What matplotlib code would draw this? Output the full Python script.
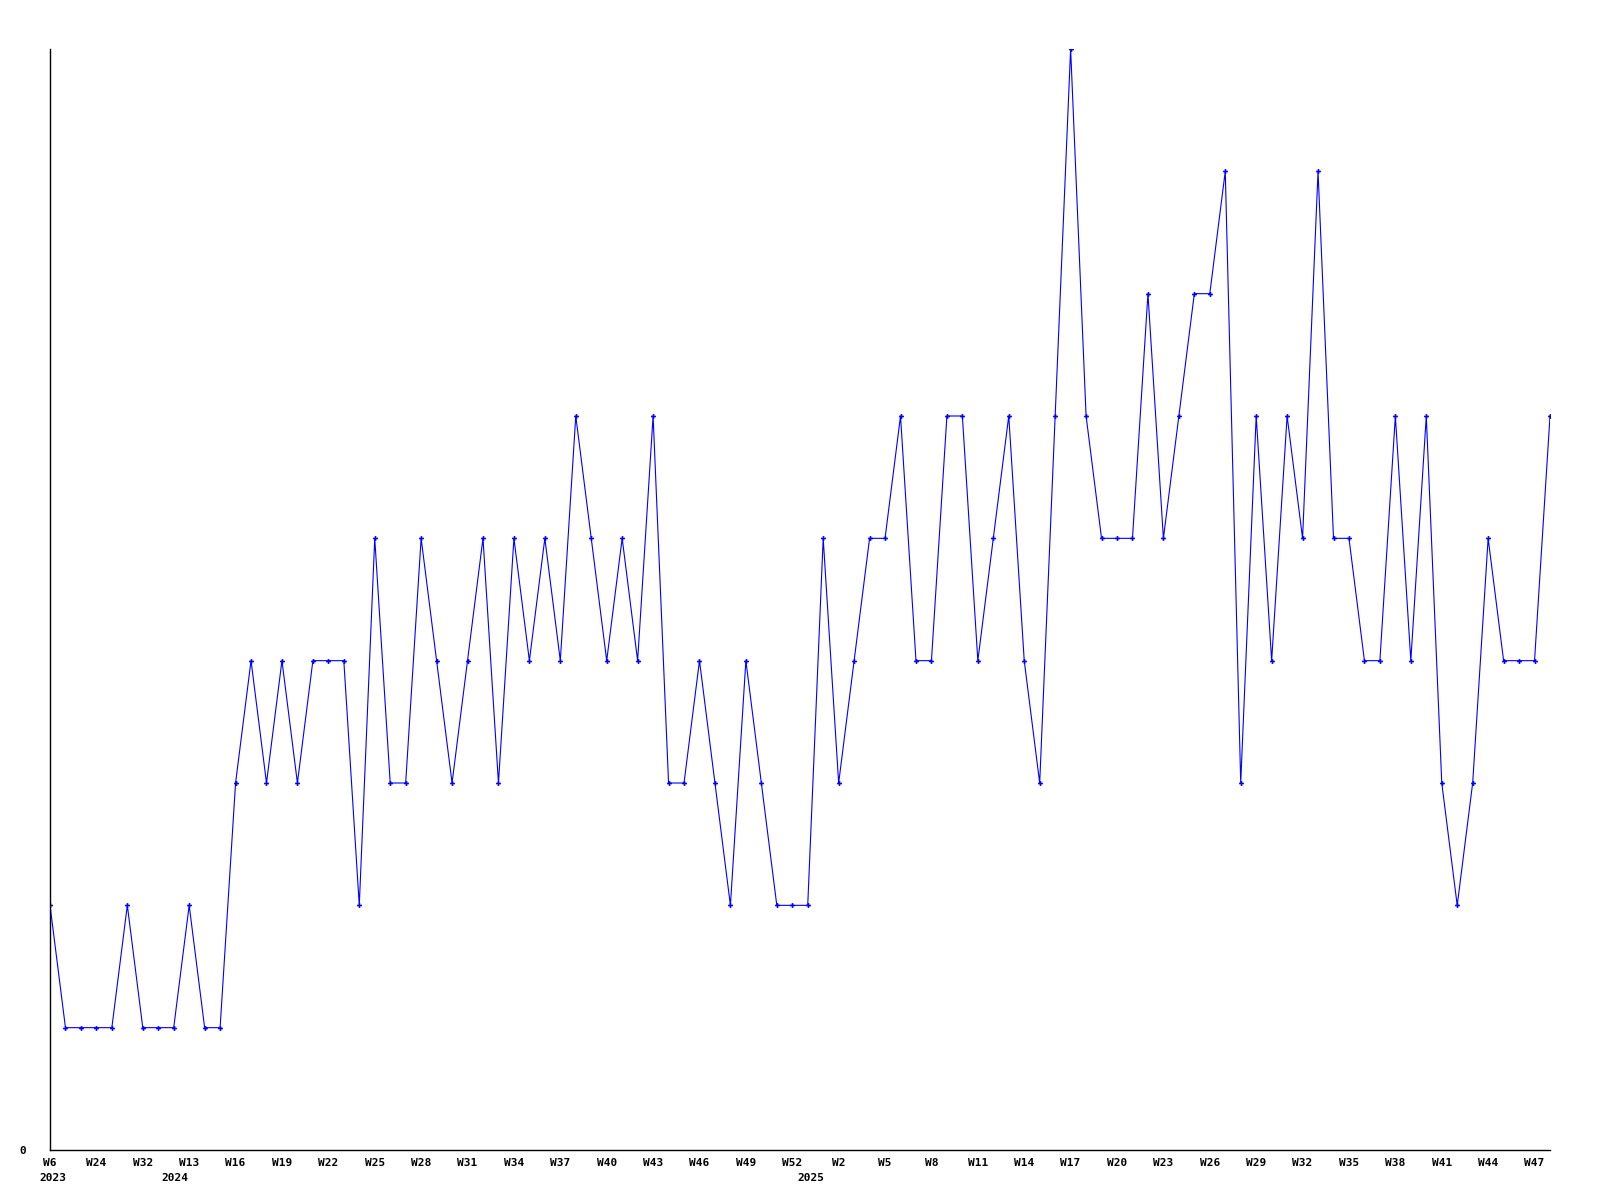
import matplotlib
matplotlib.use("Agg")
import matplotlib.pyplot as plt
import matplotlib.transforms as mtransforms

# ----------------------------------------
# DATA (one value per week that has data)
# ----------------------------------------
values = [
    2, 1, 1, 1, 1, 2, 1, 1, 1, 2,
    1, 1, 3, 4, 3, 4, 3, 4, 4, 4,
    2, 5, 3, 3, 5, 4, 3, 4, 5, 3,
    5, 4, 5, 4, 6, 5, 4, 5, 4, 6,
    3, 3, 4, 3, 2, 4, 3, 2, 2, 2,
    5, 3, 4, 5, 5, 6, 4, 4, 6, 6,
    4, 5, 6, 4, 3, 6, 9, 6, 5, 5,
    5, 7, 5, 6, 7, 7, 8, 3, 6, 4,
    6, 5, 8, 5, 5, 4, 4, 6, 4, 6,
    3, 2, 3, 5, 4, 4, 4, 6,
]

week_labels = [
    "W6", "W24", "W32", "W13", "W16", "W19", "W22", "W25", "W28", "W31",
    "W34", "W37", "W40", "W43", "W46", "W49", "W52", "W2", "W5", "W8",
    "W11", "W14", "W17", "W20", "W23", "W26", "W29", "W32", "W35", "W38",
    "W41", "W44", "W47",
]
week_label_step = 3

years = ["2023", "2024", "2025"]
year_pos = [0.2, 8.1, 49.2]

# ----------------------------------------
# PLOT
# ----------------------------------------
plt.rcParams["font.family"] = ["DejaVu Sans Mono"]
plt.rcParams["font.weight"] = "bold"

fig = plt.figure(figsize=(16, 12), dpi=100)
ax = fig.add_axes([50 / 1600, 1 - 1150 / 1200, 1500 / 1600, 1101 / 1200])

x = list(range(len(values)))
ax.plot(x, values, color="#0000ff", linewidth=0.8,
        marker="P", markersize=3.5, markeredgewidth=0)

ax.set_xlim(0, len(values) - 1)
ax.set_ylim(0, max(values))

for side in ["top", "right"]:
    ax.spines[side].set_visible(False)
for side in ["left", "bottom"]:
    ax.spines[side].set_linewidth(1.0)
    ax.spines[side].set_color("black")

ax.set_xticks(range(0, len(week_labels) * week_label_step, week_label_step))
ax.set_xticklabels(week_labels, fontsize=8, fontweight="bold")
ax.set_yticks([0])
ax.set_yticklabels(["0"], fontsize=8, fontweight="bold")
ax.tick_params(axis="x", length=0, pad=6)
ax.tick_params(axis="y", length=0, pad=17)

trans = mtransforms.blended_transform_factory(ax.transData, ax.transAxes)
for yr, pos in zip(years, year_pos):
    ax.text(pos, -0.0205, yr, transform=trans, ha="center", va="top",
            fontsize=8, fontweight="bold")

fig.savefig("out.png", dpi=100, facecolor="white")
